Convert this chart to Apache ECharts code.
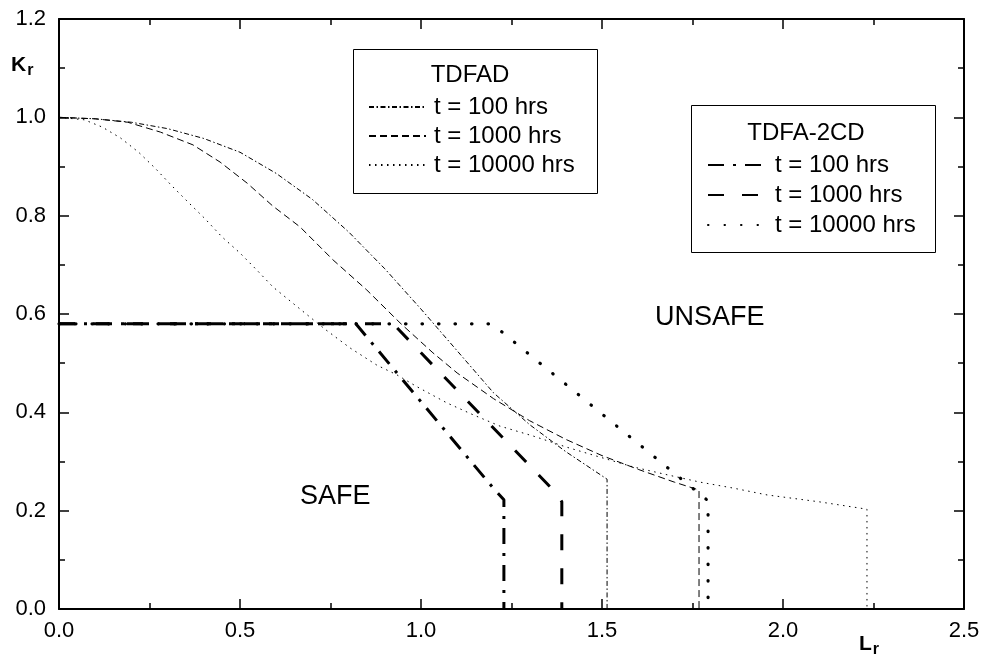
<!DOCTYPE html>
<html>
<head>
<meta charset="utf-8">
<script src="https://cdn.jsdelivr.net/npm/echarts@6/dist/echarts.min.js"></script>
<style>html,body{margin:0;padding:0;background:#fff}#c{width:984px;height:658px}</style>
</head>
<body>
<div id="c"></div>
<script>
// ---- data ----
const xTicks = [0, 0.5, 1.0, 1.5, 2.0, 2.5];
const yTicks = [0, 0.2, 0.4, 0.6, 0.8, 1.0, 1.2];

// TDFAD (thin lines)
const tdfad100X = [0,0.1,0.2,0.3,0.4,0.5,0.6,0.7,0.8,0.9,1.0,1.1,1.2,1.3,1.4,1.514,1.514];
const tdfad100Y = [1.0,0.997,0.99,0.977,0.957,0.929,0.886,0.833,0.767,0.692,0.61,0.525,0.44,0.375,0.32,0.264,0];
const tdfad1000X = [0,0.1,0.19,0.28,0.37,0.445,0.52,0.59,0.666,0.757,0.85,0.942,1.033,1.1,1.2,1.3,1.4,1.5,1.6,1.7,1.768,1.768];
const tdfad1000Y = [1.0,0.997,0.99,0.97,0.944,0.909,0.866,0.82,0.777,0.71,0.649,0.582,0.521,0.48,0.428,0.383,0.345,0.312,0.284,0.258,0.242,0];
const tdfad10000X = [0,0.07,0.12,0.17,0.22,0.265,0.31,0.356,0.403,0.45,0.5,0.547,0.591,0.666,0.735,0.804,0.878,0.934,0.989,1.072,1.144,1.218,1.309,1.403,1.494,1.586,1.68,1.771,1.862,1.956,2.1,2.232,2.232];
const tdfad10000Y = [1.0,0.995,0.98,0.958,0.929,0.897,0.862,0.828,0.794,0.757,0.724,0.689,0.655,0.61,0.569,0.531,0.496,0.476,0.452,0.419,0.395,0.372,0.352,0.329,0.309,0.289,0.273,0.258,0.246,0.232,0.218,0.203,0];

// TDFA-2CD (thick lines)
const tdfa100X = [0, 0.82, 1.204, 1.229, 1.229];
const tdfa100Y = [0.58, 0.58, 0.242, 0.222, 0];
const tdfa1000X = [0, 0.923, 1.378, 1.389, 1.389];
const tdfa1000Y = [0.58, 0.58, 0.232, 0.218, 0];
const tdfa10000X = [0, 1.196, 1.793, 1.793];
const tdfa10000Y = [0.58, 0.58, 0.22, 0];

const legendLabels = ['t = 100 hrs', 't = 1000 hrs', 't = 10000 hrs'];

// ---- chart ----
const zip = (xs, ys) => xs.map((x, i) => [x, ys[i]]);
const FONT = 'Liberation Sans, Arial, Helvetica, sans-serif';

function mkSeries(name, xs, ys, width, dash, cap) {
  return {
    name: name, type: 'line', data: zip(xs, ys), symbol: 'none',
    xAxisIndex: 0, yAxisIndex: 0, animation: false, silent: true,
    color: '#000',
    itemStyle: { color: '#000' },
    lineStyle: { color: '#000', width: width, type: dash, cap: cap || 'butt' },
    z: 3
  };
}

const series = [
  mkSeries('TDFAD ' + legendLabels[0], tdfad100X, tdfad100Y, 1, [5, 2.5, 1.5, 2.5]),
  mkSeries('TDFAD ' + legendLabels[1], tdfad1000X, tdfad1000Y, 1, [7, 4]),
  mkSeries('TDFAD ' + legendLabels[2], tdfad10000X, tdfad10000Y, 1, [1.5, 4.5]),
  mkSeries('TDFA-2CD ' + legendLabels[0], tdfa100X, tdfa100Y, 3, [16, 9, 3, 9]),
  mkSeries('TDFA-2CD ' + legendLabels[1], tdfa1000X, tdfa1000Y, 3, [16, 18]),
  mkSeries('TDFA-2CD ' + legendLabels[2], tdfa10000X, tdfa10000Y, 3.2, [0.5, 16], 'round')
];

const axisCommon = {
  type: 'value',
  splitLine: { show: false },
  axisLine: { show: true, onZero: false, lineStyle: { color: '#000', width: 2 } },
  axisTick: { show: true, inside: true, length: 10, lineStyle: { color: '#000', width: 1.5 } },
  minorTick: { show: true, splitNumber: 2, length: 6, lineStyle: { color: '#000', width: 1.5 } },
  minorSplitLine: { show: false }
};

const legendText = { color: '#000', fontSize: 24, fontFamily: FONT, lineHeight: 24 };

const chart = echarts.init(document.getElementById('c'), null, { renderer: 'canvas' });
chart.setOption({
  backgroundColor: '#fff',
  animation: false,
  grid: { left: 59, right: 20, top: 19, bottom: 49, containLabel: false },
  xAxis: [
    Object.assign({}, axisCommon, {
      position: 'bottom', min: xTicks[0], max: xTicks[xTicks.length - 1], interval: 0.5,
      axisLabel: { show: true, color: '#000', fontSize: 22, fontFamily: FONT, margin: 11,
        formatter: v => v.toFixed(1) }
    }),
    Object.assign({}, axisCommon, {
      position: 'top', min: xTicks[0], max: xTicks[xTicks.length - 1], interval: 0.5,
      axisLabel: { show: false }
    })
  ],
  yAxis: [
    Object.assign({}, axisCommon, {
      position: 'left', min: yTicks[0], max: yTicks[yTicks.length - 1], interval: 0.2,
      axisLabel: { show: true, color: '#000', fontSize: 22, fontFamily: FONT, margin: 13,
        formatter: v => v.toFixed(1) }
    }),
    Object.assign({}, axisCommon, {
      position: 'right', min: yTicks[0], max: yTicks[yTicks.length - 1], interval: 0.2,
      axisLabel: { show: false }
    })
  ],
  legend: [
    {
      orient: 'vertical', left: 368, top: 95, itemWidth: 57, itemHeight: 14, itemGap: 5, padding: 0,
      data: series.slice(0, 3).map(s => s.name),
      formatter: n => n.replace(/^\S+ /, ''),
      itemStyle: { opacity: 0 },
      textStyle: Object.assign({ padding: [0, 0, 0, 3] }, legendText),
      selectedMode: false
    },
    {
      orient: 'vertical', left: 707, top: 153, itemWidth: 60, itemHeight: 14, itemGap: 6, padding: 0,
      data: series.slice(3, 6).map(s => s.name),
      formatter: n => n.replace(/^\S+ /, ''),
      itemStyle: { opacity: 0 },
      textStyle: Object.assign({ padding: [0, 0, 0, 2] }, legendText),
      selectedMode: false
    }
  ],
  graphic: [
    { type: 'rect', shape: { x: 353.5, y: 49.5, width: 244, height: 144 },
      style: { fill: '#fff', stroke: '#000', lineWidth: 1 }, z: 1 },
    { type: 'text', x: 470, y: 75, style: { text: 'TDFAD', fill: '#000', font: '24px ' + FONT,
      textAlign: 'center', textVerticalAlign: 'middle' }, z: 10 },
    { type: 'rect', shape: { x: 691.5, y: 105.5, width: 244, height: 147 },
      style: { fill: '#fff', stroke: '#000', lineWidth: 1 }, z: 1 },
    { type: 'text', x: 806, y: 133, style: { text: 'TDFA-2CD', fill: '#000', font: '24px ' + FONT,
      textAlign: 'center', textVerticalAlign: 'middle' }, z: 10 },
    { type: 'text', x: 300, y: 497, style: { text: 'SAFE', fill: '#000', font: '27px ' + FONT,
      textVerticalAlign: 'middle' }, z: 10 },
    { type: 'text', x: 655, y: 318, style: { text: 'UNSAFE', fill: '#000', font: '27px ' + FONT,
      textVerticalAlign: 'middle' }, z: 10 },
    { type: 'text', x: 11, y: 53, style: { text: '{k|K}{r|r}', fill: '#000',
      rich: { k: { fontSize: 21, fontWeight: 'bold', fontFamily: FONT, color: '#000', lineHeight: 24 },
              r: { fontSize: 16, fontWeight: 'bold', fontFamily: FONT, color: '#000', padding: [12, 0, 0, 1], lineHeight: 24 } } }, z: 10 },
    { type: 'text', x: 859, y: 632, style: { text: '{k|L}{r|r}', fill: '#000',
      rich: { k: { fontSize: 21, fontWeight: 'bold', fontFamily: FONT, color: '#000', lineHeight: 24 },
              r: { fontSize: 16, fontWeight: 'bold', fontFamily: FONT, color: '#000', padding: [12, 0, 0, 1], lineHeight: 24 } } }, z: 10 }
  ],
  series: series
});
</script>
</body>
</html>
